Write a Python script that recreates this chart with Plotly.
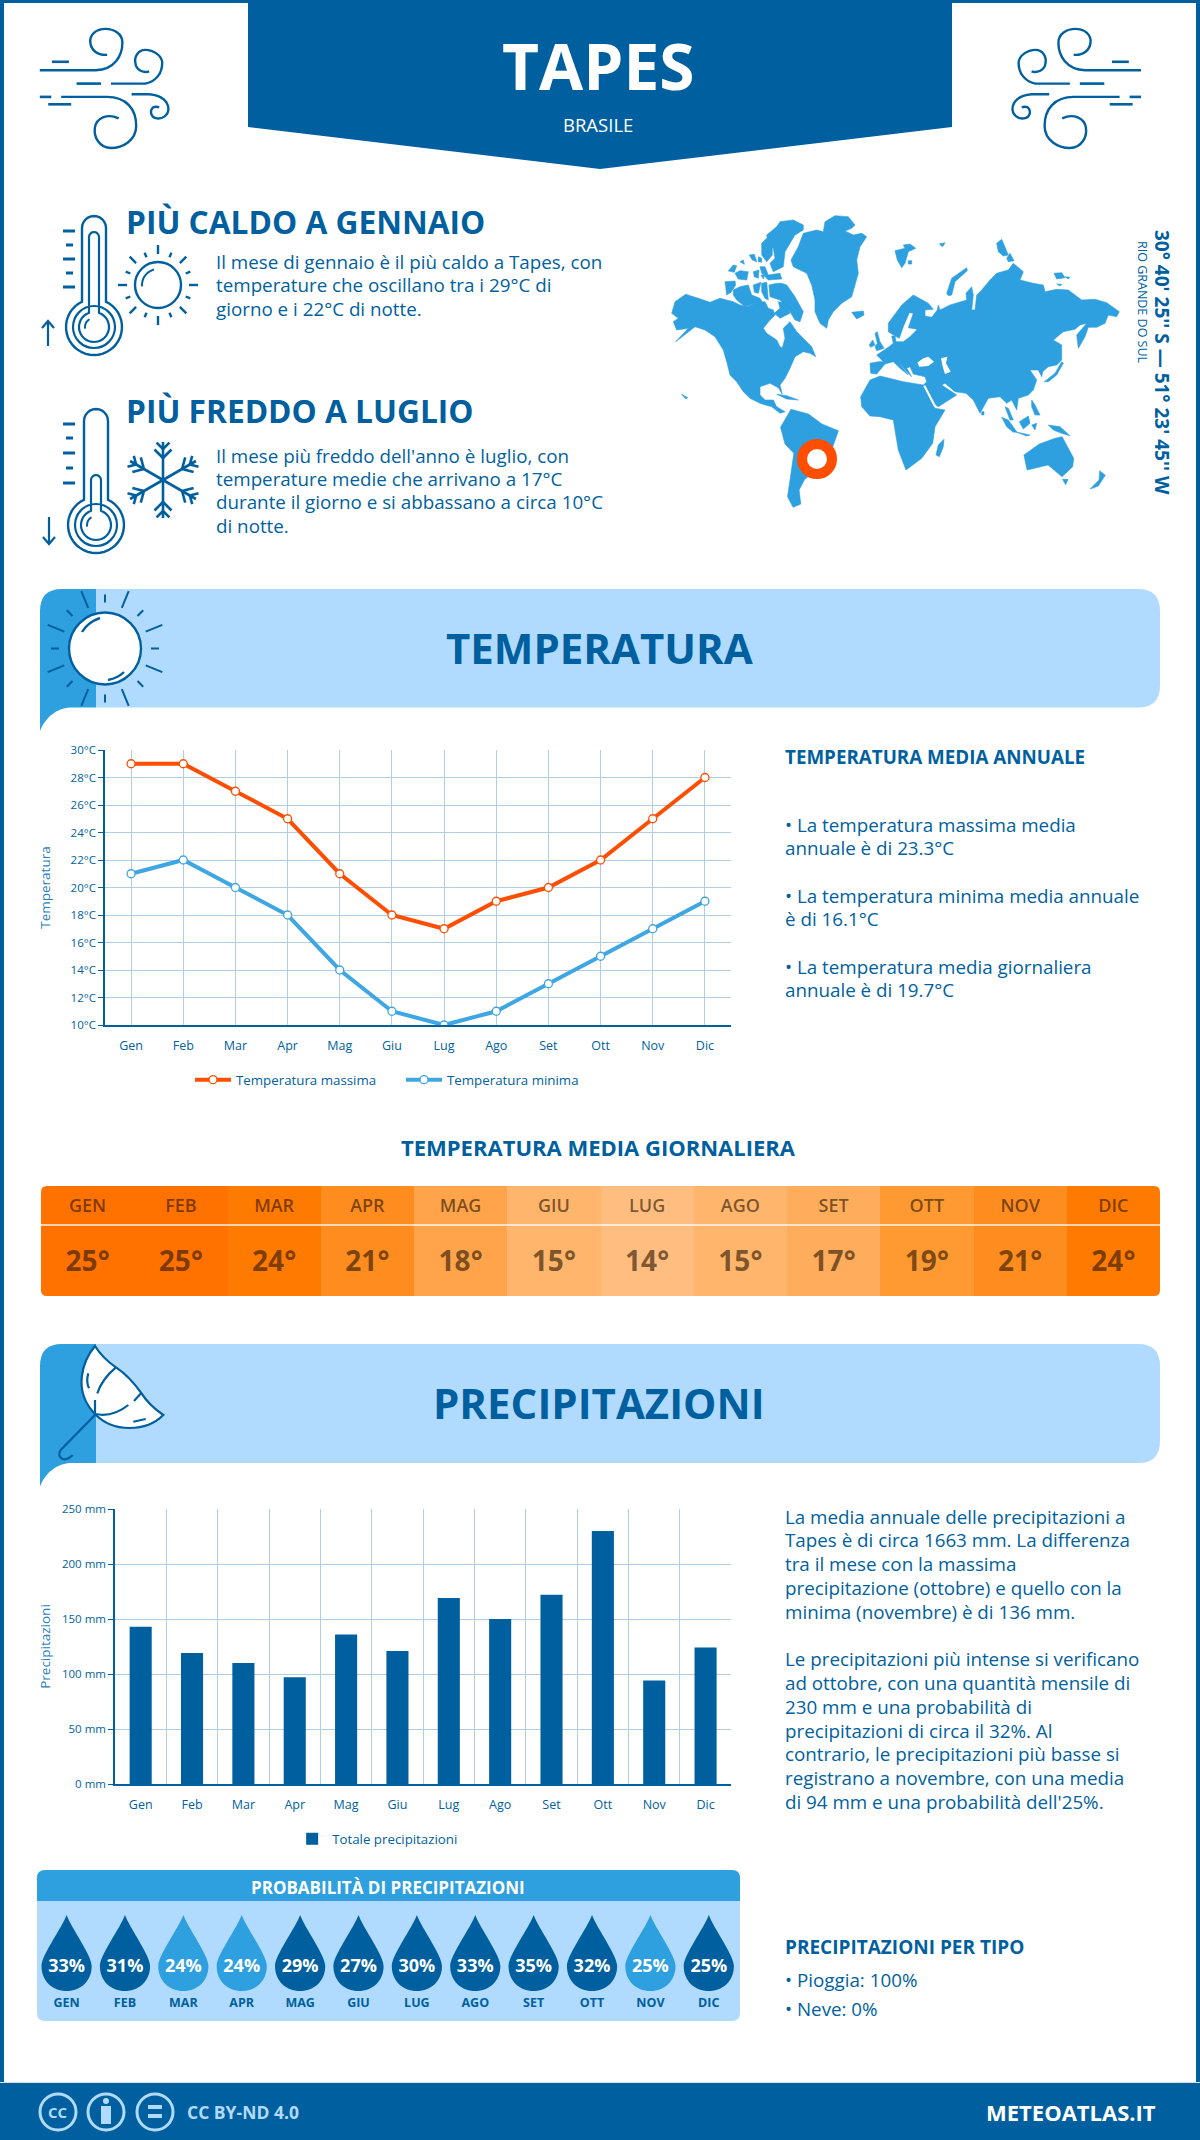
"""Tapes (Brasile) climate sheet, redrawn with plotly"""
import math
import plotly.graph_objects as go

# Data
# --------------------
months = ["Gen", "Feb", "Mar", "Apr", "Mag", "Giu", "Lug", "Ago", "Set", "Ott", "Nov", "Dic"]
months_upper = [m.upper() for m in months]
temp_max = [29, 29, 27, 25, 21, 18, 17, 19, 20, 22, 25, 28]
temp_min = [21, 22, 20, 18, 14, 11, 10, 11, 13, 15, 17, 19]
temp_mean = [25, 25, 24, 21, 18, 15, 14, 15, 17, 19, 21, 24]
rain_mm = [143, 119, 110, 97, 136, 121, 169, 150, 172, 230, 94, 124]
rain_prob = [33, 31, 24, 24, 29, 27, 30, 33, 35, 32, 25, 25]
rain_prob_dark = [1, 1, 0, 0, 1, 1, 1, 1, 1, 1, 0, 1]
temp_ticks = list(range(10, 31, 2))
rain_ticks = [0, 50, 100, 150, 200, 250]

hot_lines = [
    "Il mese di gennaio è il più caldo a Tapes, con",
    "temperature che oscillano tra i 29°C di",
    "giorno e i 22°C di notte.",
]
cold_lines = [
    "Il mese più freddo dell'anno è luglio, con",
    "temperature medie che arrivano a 17°C",
    "durante il giorno e si abbassano a circa 10°C",
    "di notte.",
]
temp_side_lines = [
    (825, "• La temperatura massima media"),
    (848, "annuale è di 23.3°C"),
    (896, "• La temperatura minima media annuale"),
    (919, "è di 16.1°C"),
    (967, "• La temperatura media giornaliera"),
    (990, "annuale è di 19.7°C"),
]
rain_side_lines = [
    (1517, "La media annuale delle precipitazioni a"),
    (1540, "Tapes è di circa 1663 mm. La differenza"),
    (1564, "tra il mese con la massima"),
    (1588, "precipitazione (ottobre) e quello con la"),
    (1612, "minima (novembre) è di 136 mm."),
    (1659, "Le precipitazioni più intense si verificano"),
    (1683, "ad ottobre, con una quantità mensile di"),
    (1707, "230 mm e una probabilità di"),
    (1731, "precipitazioni di circa il 32%. Al"),
    (1754, "contrario, le precipitazioni più basse si"),
    (1778, "registrano a novembre, con una media"),
    (1802, "di 94 mm e una probabilità dell'25%."),
]

# Colours
BLUE = "#005f9e"
MID = "#2e9fdf"
PALE = "#b0dbff"
ORANGE = "#ff4e00"
LINE_MIN = "#3ea6e2"
GRID = "#b3cde0"
FONT = "Open Sans, sans-serif"

heat_stops = [(14, "#ffbd80"), (15, "#ffb56c"), (17, "#ffad5c"), (18, "#ffa44b"),
              (19, "#ff9a33"), (21, "#ff8c1e"), (24, "#ff7a00"), (25, "#ff7200")]

shapes = []
notes = []


def dom_x(left, right):
    return [left / 1200, right / 1200]


def dom_y(top, bottom):
    return [1 - bottom / 2140, 1 - top / 2140]


def add_path(path, fill=None, line=None, width=0, layer="below", xref="x", yref="y"):
    shapes.append(dict(type="path", path=path, xref=xref, yref=yref, layer=layer,
                       fillcolor=fill or "rgba(0,0,0,0)",
                       line=dict(color=line or "rgba(0,0,0,0)", width=width)))


def add_rect(x0, y0, x1, y1, fill, layer="below"):
    shapes.append(dict(type="rect", x0=x0, y0=y0, x1=x1, y1=y1, xref="x", yref="y",
                       layer=layer, fillcolor=fill, line=dict(width=0)))


def add_circle(cx, cy, r, fill=None, line=None, width=0, layer="below"):
    shapes.append(dict(type="circle", x0=cx - r, y0=cy - r, x1=cx + r, y1=cy + r, xref="x", yref="y",
                       layer=layer, fillcolor=fill or "rgba(0,0,0,0)",
                       line=dict(color=line or "rgba(0,0,0,0)", width=width)))


def seg(x0, y0, x1, y1, width=2.2, color=BLUE):
    add_path(f"M{x0:.1f},{y0:.1f} L{x1:.1f},{y1:.1f}", line=color, width=width)


def arc(cx, cy, r, a0, a1, n=24):
    # shape paths have no arc command, so arcs go in as short segments (angles in degrees)
    pts = []
    for k in range(n + 1):
        a = math.radians(a0 + (a1 - a0) * k / n)
        pts.append(f"{cx + r * math.cos(a):.1f},{cy + r * math.sin(a):.1f}")
    return " L".join(pts)


def text(x, y, s, size=19, color=BLUE, weight=400, anchor="left", angle=0, valign="middle"):
    notes.append(dict(x=x, y=y, xref="x", yref="y", text=s, showarrow=False, xanchor=anchor, yanchor=valign,
                      textangle=angle, font=dict(family=FONT, size=size, color=color, weight=weight)))


# Frame, header, footer
# --------------------
add_rect(0, 0, 4, 2140, BLUE)
add_rect(1196, 0, 1200, 2140, BLUE)
add_rect(0, 0, 1200, 3, BLUE)
add_path("M248,0 H952 V127 L600,169 L248,127 Z", fill=BLUE)
add_rect(0, 2083, 1200, 2140, BLUE)
add_rect(0, 2082, 1200, 2083, "#d5dde3")
text(598, 65, "TAPES", size=64, color="white", weight=700, anchor="center")
text(598, 124, "BRASILE", size=18.5, color="white", anchor="center")


# Wind icons, written in zoomed coordinates of the left icon and mirrored on the right
def wind(mirror):
    def fx(x):
        return ((1543 - x) if mirror else x) / 1.3067

    def fy(y):
        return y / 2.703

    curves = [
        [(52, 190), (125, 190), (150, 188), (160, 150), (160, 115), (160, 90), (148, 78), (138, 78),
         (125, 78), (117, 95), (118, 115), (119, 135), (127, 150), (140, 148)],
        [(145, 226), (190, 226), (205, 220), (212, 195), (212, 170), (212, 150), (200, 135), (190, 135),
         (180, 135), (175, 155), (177, 172), (178, 190), (188, 198), (195, 193)],
        [(80, 262), (140, 262), (165, 262), (178, 295), (178, 340), (178, 380), (160, 400), (145, 400),
         (130, 400), (122, 370), (124, 345), (126, 320), (140, 305), (155, 320)],
        [(172, 255), (195, 255), (212, 258), (220, 275), (220, 295), (220, 312), (212, 322), (205, 320),
         (197, 318), (195, 300), (200, 290), (203, 288), (205, 288), (208, 290)],
    ]
    for c in curves:
        p = f"M{fx(c[0][0]):.1f},{fy(c[0][1]):.1f} L{fx(c[1][0]):.1f},{fy(c[1][1]):.1f}"
        for k in range(2, len(c), 3):
            p += " C" + " ".join(f"{fx(a):.1f},{fy(b):.1f}" for a, b in c[k:k + 3])
        add_path(p, line=BLUE, width=2.4)
    for x0, y, x1 in [(100, 226, 132), (68, 167, 90), (52, 262, 67), (63, 282, 93)]:
        seg(fx(x0), fy(y), fx(x1), fy(y), width=2.6)


wind(False)
wind(True)


# Thermometers
def thermo(cx, top, cy, mercury, ticks, arrow_y0, arrow_y1, arrow_x):
    # outer glass
    r, hw = 28, 12
    gap = math.degrees(math.asin(hw / r))
    add_path(f"M{arc(cx, top + hw, hw, 180, 360, 12)} L{arc(cx, cy, r, -90 + gap, 270 - gap, 36)} Z", line=BLUE, width=2.4)
    add_circle(cx, cy, 21, line=BLUE, width=2.2)
    # mercury
    r, hw = 15, 5
    gap = math.degrees(math.asin(hw / r))
    add_path(f"M{arc(cx, mercury + hw, hw, 180, 360, 8)} L{arc(cx, cy, r, -90 + gap, 270 - gap, 30)} Z", line=BLUE, width=2.2)
    add_path(f"M{arc(cx, cy, 9, 170, 240, 8)}", line=BLUE, width=2)
    for k, y in enumerate(ticks):
        seg(63 if k % 2 == 0 else 66, y, 75 if k % 2 == 0 else 73, y, width=3)
    seg(arrow_x, arrow_y0, arrow_x, arrow_y1, width=2.2)
    d = 7 if arrow_y1 > arrow_y0 else -7
    add_path(f"M{arrow_x - 6},{arrow_y1 - d} L{arrow_x},{arrow_y1} L{arrow_x + 6},{arrow_y1 - d}", line=BLUE, width=2.2)


thermo(94, 216, 327, 232, [231, 245, 259, 273, 287], 346, 321, 48)
thermo(96, 409, 525, 475, [424, 438, 453, 468, 483], 517, 544, 49)

# Small sun
add_circle(158, 285, 23, line=BLUE, width=2.4)
add_path("M" + arc(158, 285, 16, 175, 255, 10), line=BLUE, width=2)
for k in range(16):
    a = k * math.pi / 8
    r0, r1 = (31, 40) if k % 2 == 0 else (30, 35)
    seg(158 + r0 * math.cos(a), 285 + r0 * math.sin(a), 158 + r1 * math.cos(a), 285 + r1 * math.sin(a), width=2.4)

# Snowflake
for k in range(6):
    a = k * math.pi / 3 + math.pi / 2
    ca, sa = math.cos(a), math.sin(a)
    cx, cy = 163, 480
    seg(cx, cy, cx + 38 * ca, cy + 38 * sa, width=2.6)
    for dist, branch in [(22, 12), (31, 9)]:
        for sgn in (-1, 1):
            b = a + sgn * math.pi / 4
            seg(cx + dist * ca, cy + dist * sa, cx + dist * ca + branch * math.cos(b),
                cy + dist * sa + branch * math.sin(b), width=2.6)

text(124, 221, "PIÙ CALDO A GENNAIO", size=31.7, weight=700)
text(124, 410, "PIÙ FREDDO A LUGLIO", size=31.7, weight=700)
for y, line in zip([262, 285, 309], hot_lines):
    text(213.5, y, line, size=18.8)
for y, line in zip([456, 479, 502, 526], cold_lines):
    text(213.5, y, line, size=18.8)

west_land = [
    # North and central America
    [(20, 325), (30, 290), (62, 268), (100, 280), (135, 292), (165, 280), (205, 290), (225, 300), (245, 305), (270, 295),
     (300, 290), (310, 310), (325, 315), (330, 330), (315, 345), (295, 370), (305, 385), (335, 405), (345, 425), (352, 428),
     (360, 400), (355, 370), (375, 350), (395, 380), (415, 400), (440, 425), (452, 455), (435, 445), (415, 440), (390, 455),
     (375, 490), (360, 520), (345, 540), (352, 568), (340, 548), (315, 535), (285, 545), (285, 570), (300, 585), (325, 585),
     (335, 605), (360, 620), (345, 625), (320, 605), (285, 595), (255, 580), (235, 560), (215, 530), (195, 510), (185, 470),
     (175, 435), (150, 395), (120, 375), (90, 365), (65, 385), (32, 410), (70, 370), (35, 375), (25, 350), (40, 340)],
    # Greenland
    [(378, 165), (400, 125), (415, 85), (455, 75), (475, 80), (480, 50), (510, 32), (550, 35), (570, 60), (560, 70), (540, 78),
     (565, 90), (590, 85), (605, 95), (585, 125), (575, 165), (580, 205), (570, 240), (560, 275), (530, 295), (505, 320),
     (490, 345), (485, 370), (465, 355), (450, 320), (450, 285), (440, 240), (425, 205), (385, 185)],
    # Arctic islands
    [(305, 90), (335, 65), (345, 50), (385, 45), (415, 60), (415, 75), (390, 90), (360, 140), (355, 185), (325, 200), (315, 175),
     (330, 160), (325, 130), (310, 120)],
    [(290, 115), (305, 100), (322, 125), (322, 150), (305, 170), (290, 150)],
    [(190, 198), (205, 180), (215, 182), (208, 202)],
    [(210, 205), (225, 197), (250, 200), (245, 225), (220, 222)],
    [(253, 150), (268, 148), (275, 170), (262, 165)],
    [(280, 155), (290, 160), (290, 172), (280, 170)],
    [(225, 170), (235, 165), (238, 178)],
    [(285, 185), (300, 185), (310, 210), (345, 205), (350, 222), (310, 225), (290, 205)],
    [(265, 200), (282, 195), (280, 220), (268, 215)],
    [(288, 210), (298, 212), (295, 222)],
    [(180, 230), (210, 228), (212, 240), (198, 262), (185, 270)],
    [(205, 255), (225, 245), (250, 240), (260, 270), (285, 280), (295, 295), (270, 295), (240, 305), (215, 285), (205, 270)],
    [(265, 240), (288, 232), (280, 265), (268, 262)],
    [(290, 235), (305, 232), (310, 285), (300, 280), (290, 260)],
    [(312, 240), (335, 235), (350, 235), (365, 240), (390, 275), (415, 320), (405, 350), (390, 345), (375, 320), (345, 285), (315, 275)],
    [(340, 290), (365, 295), (375, 325), (345, 340), (328, 325), (345, 310)],
    # Iceland, Cuba, Hawaii
    [(560, 322), (595, 318), (597, 330), (575, 342)],
    [(335, 568), (365, 572), (400, 585), (365, 582)],
    [(50, 568), (68, 578), (62, 582)],
]
east_land = [
    # Svalbard and other Arctic islands
    [(105, 62), (135, 55), (130, 45), (150, 42), (167, 55), (145, 65), (135, 100), (125, 113), (112, 90)],
    [(145, 92), (155, 92), (155, 102), (145, 102)],
    [(238, 42), (255, 38), (248, 50)],
    [(260, 190), (275, 145), (320, 113), (322, 122), (285, 155), (275, 195), (265, 197)],
    [(410, 40), (425, 28), (445, 75), (430, 78), (415, 65)],
    [(440, 85), (450, 70), (462, 92), (445, 95)],
    [(582, 130), (605, 128), (615, 143), (590, 147)],
    [(615, 140), (630, 142), (625, 147)],
    [(590, 162), (605, 163), (600, 168)],
    # British Isles
    [(45, 310), (52, 305), (60, 335), (72, 355), (50, 362), (45, 350), (52, 340)],
    [(28, 345), (38, 330), (45, 345), (32, 352)],
    # Eurasia
    [(30, 400), (55, 395), (70, 395), (50, 375), (85, 352), (100, 340), (95, 318), (105, 318), (108, 335), (130, 335), (150, 320),
     (172, 298), (145, 293), (160, 250), (148, 248), (130, 290), (118, 325), (105, 318), (85, 305), (85, 280), (125, 225), (160, 195),
     (205, 220), (220, 238), (195, 240), (195, 258), (215, 262), (232, 240), (235, 225), (240, 240), (270, 225), (320, 210), (318, 190),
     (335, 170), (340, 195), (335, 240), (345, 240), (350, 195), (365, 180), (390, 150), (410, 130), (445, 120), (460, 100), (490, 125),
     (480, 150), (520, 160), (550, 165), (555, 185), (590, 178), (625, 180), (665, 210), (705, 208), (740, 218), (778, 245), (770, 260),
     (745, 255), (735, 280), (710, 292), (685, 292), (675, 320), (655, 355), (650, 315), (680, 280), (660, 285), (645, 298), (610, 305),
     (580, 330), (605, 345), (605, 390), (590, 405), (565, 410), (548, 425), (545, 440), (535, 420), (510, 420), (530, 450), (520, 480),
     (505, 495), (475, 505), (470, 540), (455, 510), (440, 520), (420, 500), (385, 505), (360, 550), (340, 510), (318, 490), (285, 485),
     (255, 460), (245, 465), (290, 495), (235, 530), (220, 520), (190, 465), (200, 455), (195, 440), (160, 432), (150, 410), (140, 415),
     (155, 440), (140, 425), (110, 390), (145, 435), (120, 415), (100, 395), (75, 402), (50, 432), (32, 430)],
    # Africa
    [(2, 500), (30, 450), (60, 438), (130, 455), (190, 465), (225, 535), (255, 540), (225, 590), (218, 640), (185, 685), (138, 720),
     (115, 660), (100, 570), (60, 560), (30, 558), (5, 530)],
    # Madagascar, Japan, Sri Lanka
    [(228, 675), (235, 645), (252, 628), (250, 650), (238, 680)],
    [(553, 455), (585, 430), (605, 395), (610, 400), (590, 435), (565, 455)],
    [(365, 545), (372, 545), (372, 555), (365, 555)],
    # South East Asia
    [(425, 562), (445, 570), (470, 605), (460, 607), (440, 590)],
    [(465, 605), (510, 615), (500, 618)],
    [(478, 575), (505, 558), (510, 580), (490, 597)],
    [(515, 585), (530, 580), (525, 600)],
    [(515, 510), (525, 525), (540, 555), (525, 555), (515, 530)],
    [(565, 585), (600, 590), (630, 617), (605, 610), (580, 600)],
    [(435, 530), (445, 535), (460, 570), (450, 570)],
]
south_land = [
    # South America
    [(372, 712), (402, 658), (452, 672), (490, 702), (537, 722), (522, 768), (505, 792), (480, 830), (440, 870),
     (425, 900), (430, 942), (408, 952), (392, 920), (402, 850), (410, 790), (385, 762)],
    # Australia and New Zealand
    [(1066, 795), (1110, 762), (1155, 745), (1175, 740), (1208, 805), (1205, 830), (1175, 860), (1135, 825), (1075, 840)],
    [(1176, 868), (1192, 868), (1185, 884)],
    [(1255, 897), (1280, 870), (1282, 842), (1298, 856), (1278, 888)],
]
east_seas = [
    [(172, 398), (190, 385), (205, 380), (222, 395), (205, 408), (178, 410)],  # Black sea
    [(243, 385), (262, 380), (258, 400), (272, 425), (255, 432), (248, 410)],  # Caspian
    [(190, 468), (196, 466), (230, 532), (222, 530)],  # Red sea
]


def poly_path(poly, x0, y0, sx, sy):
    return "M" + " L".join(f"{x0 + p[0] / sx:.1f},{y0 + p[1] / sy:.1f}" for p in poly) + " Z"


for poly in west_land:
    add_path(poly_path(poly, 665, 205, 3, 3), fill=MID, line=MID, width=0.6)
for poly in east_land:
    add_path(poly_path(poly, 860, 230, 3, 3), fill=MID, line=MID, width=0.6)
for poly in south_land:
    add_path(poly_path(poly, 650, 190, 2.851, 3), fill=MID, line=MID, width=0.6)
for poly in east_seas:
    add_path(poly_path(poly, 860, 230, 3, 3), fill="white")
add_circle(817, 459, 15, fill="white", line=ORANGE, width=10)

text(1162, 362, "30° 40' 25'' S — 51° 23' 45'' W", size=19, weight=700, anchor="center", angle=90)
text(1143, 302, "RIO GRANDE DO SUL", size=12.5, anchor="center", angle=90)


# Section banners
def banner(top, bottom, tail, title):
    add_path(f"M96,{top} H1138 Q1160,{top} 1160,{top + 22} V{bottom - 22} Q1160,{bottom} 1138,{bottom} H96 Z", fill=PALE)
    add_path(f"M96,{top} H62 Q40,{top} 40,{top + 22} V{tail} C47,{tail - 17} 60,{bottom} 72,{bottom} H96 Z", fill=MID)
    text(599, (top + bottom) / 2 - 1, title, size=42, weight=700, anchor="center")


banner(589, 707.5, 731, "TEMPERATURA")
banner(1344, 1463, 1486.5, "PRECIPITAZIONI")

# Big sun on the banner
add_circle(105, 648.5, 36, fill="white", line=BLUE, width=2.4)
for k in range(16):
    a = k * math.pi / 8
    r0, r1 = (44, 62) if k % 2 == 1 else (46, 54)
    seg(105 + r0 * math.cos(a), 648.5 + r0 * math.sin(a), 105 + r1 * math.cos(a), 648.5 + r1 * math.sin(a), width=2)
add_path("M82,632 Q88,622 100,618", line=BLUE, width=2.4)
add_path("M108,680 Q118,678 124,672", line=BLUE, width=2.4)


def uz(x, y):
    return f"{30 + x / 3:.1f},{1340 + y / 3:.1f}"


add_path(f"M{uz(195, 18)} C{uz(160, 60)} {uz(125, 150)} {uz(195, 222)} C{uz(250, 280)} {uz(350, 275)} {uz(400, 225)} "
         f"C{uz(370, 205)} {uz(350, 185)} {uz(333, 158)} C{uz(310, 125)} {uz(285, 100)} {uz(258, 82)} "
         f"C{uz(240, 70)} {uz(215, 50)} {uz(195, 18)} Z", fill="white", line=BLUE, width=2.2)
add_path(f"M{uz(258, 82)} C{uz(230, 105)} {uz(210, 135)} {uz(202, 160)}", line=BLUE, width=2.2)
add_path(f"M{uz(333, 160)} L{uz(312, 183)}", line=BLUE, width=2.2)
add_path(f"M{uz(195, 222)} C{uz(235, 230)} {uz(270, 215)} {uz(295, 195)}", line=BLUE, width=2.2)
add_path(f"M{uz(195, 222)} L{uz(195, 180)}", line=BLUE, width=2.2)
add_path(f"M{uz(175, 100)} C{uz(170, 115)} {uz(170, 130)} {uz(177, 145)}", line=BLUE, width=2.2)
add_path(f"M{uz(310, 245)} L{uz(347, 237)}", line=BLUE, width=2.2)
add_path(f"M{uz(195, 225)} L{uz(92, 330)} C{uz(78, 350)} {uz(100, 372)} {uz(128, 345)}", line=BLUE, width=2.2)

# Side texts
text(783, 757, "TEMPERATURA MEDIA ANNUALE", size=18.8, weight=700)
for y, line in temp_side_lines:
    text(783, y, line, size=18.8)
for y, line in rain_side_lines:
    text(783, y, line, size=18.8)
text(598, 1147, "TEMPERATURA MEDIA GIORNALIERA", size=22, weight=700, anchor="center")

# Probability panel and type list
add_path("M37,1901 V1878 Q37,1870 45,1870 H732 Q740,1870 740,1878 V1901 Z", fill=MID)
add_path("M37,1901 H740 V2013 Q740,2021 732,2021 H45 Q37,2021 37,2013 Z", fill=PALE)
text(388, 1887, "PROBABILITÀ DI PRECIPITAZIONI", size=17, color="white", weight=700, anchor="center")
text(783, 1947, "PRECIPITAZIONI PER TIPO", size=19, weight=700)
text(783, 1980, "• Pioggia: 100%", size=18.8)
text(783, 2009, "• Neve: 0%", size=18.8)

# Footer
for cx in (58, 106, 155):
    add_circle(cx, 2112, 18, line=PALE, width=3)
text(58, 2112, "CC", size=15, color=PALE, weight=700, anchor="center")
add_circle(106, 2101, 3, fill=PALE)
add_rect(101, 2106, 111, 2124, PALE)
add_rect(148, 2105, 162, 2109, PALE)
add_rect(148, 2114, 162, 2118, PALE)
text(185, 2112, "CC BY-ND 4.0", size=17.5, color=PALE, weight=700)
text(1158, 2112, "METEOATLAS.IT", size=22, color="white", weight=700, anchor="right")

# Table corners
for cx, cy, sx, sy in [(41, 1186, 1, 1), (1160, 1186, -1, 1), (41, 1296, 1, -1), (1160, 1296, -1, -1)]:
    add_path(f"M{cx},{cy} H{cx + 6 * sx} Q{cx},{cy} {cx},{cy + 6 * sy} Z", fill="white", layer="above")
add_path("M41,1225 H1160", line="rgba(255,255,255,0.9)", width=1.5, layer="above")

# Drops, on their own month axis
for i, dark in enumerate(rain_prob_dark):
    add_path(f"M{i},1915 C{i + 0.08},1928 {i + 0.43},1955 {i + 0.43},1966 C{i + 0.43},1981 {i + 0.24},1991 {i},1991 "
             f"C{i - 0.24},1991 {i - 0.43},1981 {i - 0.43},1966 C{i - 0.43},1955 {i - 0.08},1928 {i},1915 Z",
             fill=BLUE if dark else MID, xref="x5", yref="y5")

# Figure
# --------------------
fig = go.Figure()

line_style = dict(mode="lines+markers", xaxis="x2", yaxis="y2", x=months, legend="legend")
fig.add_trace(go.Scatter(y=temp_max, name="Temperatura massima", line=dict(color=ORANGE, width=4),
                         marker=dict(size=8, color="white", line=dict(color=ORANGE, width=1.3)), **line_style))
fig.add_trace(go.Scatter(y=temp_min, name="Temperatura minima", line=dict(color=LINE_MIN, width=4),
                         marker=dict(size=8, color="white", line=dict(color=LINE_MIN, width=1.3)), **line_style))

fig.add_trace(go.Bar(x=months, y=rain_mm, name="Totale precipitazioni", marker=dict(color=BLUE, line=dict(width=0)),
                     xaxis="x3", yaxis="y3", legend="legend2", showlegend=True))

zmin, zmax = heat_stops[0][0], heat_stops[-1][0]
fig.add_trace(go.Heatmap(z=[temp_mean], x=list(range(12)), y=[0], zmin=zmin, zmax=zmax, showscale=False,
                         colorscale=[[(t - zmin) / (zmax - zmin), c] for t, c in heat_stops],
                         xaxis="x4", yaxis="y4", hoverinfo="skip"))
fig.add_trace(go.Scatter(x=list(range(12)), y=[1207] * 12, text=months_upper, mode="text", showlegend=False,
                         textfont=dict(family=FONT, size=18, color="rgba(40,20,0,0.62)", weight=600),
                         xaxis="x4", yaxis="y6"))
fig.add_trace(go.Scatter(x=list(range(12)), y=[1264] * 12, text=[f"{v}°" for v in temp_mean], mode="text", showlegend=False,
                         textfont=dict(family=FONT, size=28, color="rgba(40,20,0,0.62)", weight=700),
                         xaxis="x4", yaxis="y6"))

fig.add_trace(go.Scatter(x=list(range(12)), y=[1967] * 12, text=[f"{v}%" for v in rain_prob], mode="text", showlegend=False,
                         textfont=dict(family=FONT, size=18, color="white", weight=700), xaxis="x5", yaxis="y5"))
fig.add_trace(go.Scatter(x=list(range(12)), y=[2004] * 12, text=months_upper, mode="text", showlegend=False,
                         textfont=dict(family=FONT, size=12.5, color=BLUE, weight=700), xaxis="x5", yaxis="y5"))

tick_font = dict(family=FONT, size=11.5, color=BLUE)
title_font = dict(family=FONT, size=13.5, color="#2a80bb")
hidden = dict(visible=False, fixedrange=True)

fig.update_layout(
    width=1200, height=2140, autosize=False,
    margin=dict(l=0, r=0, t=0, b=0, autoexpand=False),
    paper_bgcolor="white", plot_bgcolor="rgba(0,0,0,0)",
    font=dict(family=FONT, color=BLUE),
    shapes=shapes, annotations=notes, hovermode=False, bargap=0.57,
    # page axis, in pixels
    xaxis=dict(domain=[0, 1], range=[0, 1200], **hidden),
    yaxis=dict(domain=[0, 1], range=[2140, 0], **hidden),
    # temperature lines
    xaxis2=dict(domain=dom_x(105, 731), range=[-0.5, 11.5], anchor="y2", type="category", categoryorder="array",
                categoryarray=months, showgrid=True, gridcolor=GRID, gridwidth=1, showline=True, linecolor=BLUE,
                linewidth=1.5, ticks="", tickfont=dict(family=FONT, size=12.5, color=BLUE), ticklabelstandoff=8),
    yaxis2=dict(domain=dom_y(750, 1025), range=[10, 30], anchor="x2", tickvals=temp_ticks,
                ticktext=[f"{v}°C" for v in temp_ticks], showgrid=True, gridcolor=GRID, gridwidth=1, showline=True,
                linecolor=BLUE, linewidth=1.5, ticks="outside", ticklen=5, tickcolor=BLUE, tickfont=tick_font,
                zeroline=False, title=dict(text="Temperatura", font=title_font, standoff=17)),
    # rain bars
    xaxis3=dict(domain=dom_x(115, 731), range=[-0.5, 11.495], anchor="y3", type="category", categoryorder="array",
                categoryarray=months, tickson="boundaries", showgrid=True, gridcolor=GRID, gridwidth=1, showline=True,
                linecolor=BLUE, linewidth=1.5, ticks="", tickfont=dict(family=FONT, size=12.5, color=BLUE), ticklabelstandoff=8),
    yaxis3=dict(domain=dom_y(1509, 1784), range=[0, 250], anchor="x3", tickvals=rain_ticks,
                ticktext=[f"{v} mm" for v in rain_ticks], showgrid=True, gridcolor=GRID, gridwidth=1, showline=True,
                linecolor=BLUE, linewidth=1.5, ticks="outside", ticklen=5, tickcolor=BLUE, tickfont=tick_font,
                zeroline=False, title=dict(text="Precipitazioni", font=title_font, standoff=8)),
    # daily mean table
    xaxis4=dict(domain=dom_x(41, 1160), range=[-0.5, 11.5], anchor="y4", **hidden),
    yaxis4=dict(domain=dom_y(1186, 1296), range=[-0.5, 0.5], anchor="x4", **hidden),
    yaxis6=dict(domain=dom_y(1186, 1296), range=[1296, 1186], anchor="x4", **hidden),
    # rain drops
    xaxis5=dict(domain=dom_x(37.4, 738), range=[-0.5, 11.5], anchor="y5", **hidden),
    yaxis5=dict(domain=dom_y(1905, 2015), range=[2015, 1905], anchor="x5", **hidden),
    legend=dict(orientation="h", x=190 / 1200, xanchor="left", y=1 - 1080 / 2140, yanchor="middle",
                font=dict(family=FONT, size=13.3, color=BLUE), itemwidth=36, entrywidth=160, bgcolor="rgba(0,0,0,0)"),
    legend2=dict(orientation="h", x=0.3147, xanchor="center", y=1 - 1839 / 2140, yanchor="middle",
                 font=dict(family=FONT, size=13.3, color=BLUE), itemwidth=30, bgcolor="rgba(0,0,0,0)"),
)

fig.write_html("out.html", config={"displayModeBar": False},
               post_script="document.body.style.margin='0';document.body.style.overflow='hidden';")
